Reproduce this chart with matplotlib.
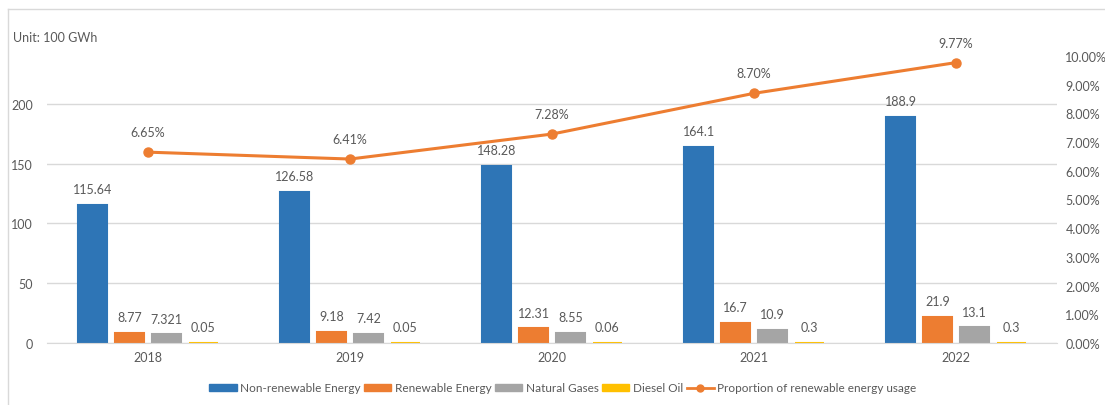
import matplotlib
matplotlib.use("Agg")
import matplotlib.pyplot as plt
from matplotlib.lines import Line2D
from matplotlib.ticker import FuncFormatter
import numpy as np

years = ["2018", "2019", "2020", "2021", "2022"]
non_renewable = [115.64, 126.58, 148.28, 164.1, 188.9]
renewable = [8.77, 9.18, 12.31, 16.7, 21.9]
natural_gas = [7.321, 7.42, 8.55, 10.9, 13.1]
diesel = [0.05, 0.05, 0.06, 0.3, 0.3]
renewable_share = [6.65, 6.41, 7.28, 8.70, 9.77]

bar_labels = [
    ["115.64", "126.58", "148.28", "164.1", "188.9"],
    ["8.77", "9.18", "12.31", "16.7", "21.9"],
    ["7.321", "7.42", "8.55", "10.9", "13.1"],
    ["0.05", "0.05", "0.06", "0.3", "0.3"],
]
series_names = ["Non-renewable Energy", "Renewable Energy", "Natural Gases", "Diesel Oil"]
line_name = "Proportion of renewable energy usage"

colors = ["#2E75B6", "#ED7D31", "#A5A5A5", "#FFC000"]
text_color = "#595959"
fs = 9
plt.rcParams["font.family"] = ["Lato", "DejaVu Sans"]

W, H = 1105, 406
fig = plt.figure(figsize=(W / 100, H / 100), dpi=100)

left_px, right_px, top_px, bottom_px = 47, 1057, 57, 344
ax = fig.add_axes([left_px / W, 1 - bottom_px / H,
                   (right_px - left_px) / W, (bottom_px - top_px) / H])
ax2 = ax.twinx()

x = np.arange(len(years))
width = 0.145
step = 0.183
offsets = [-1.5 * step, -0.5 * step, 0.5 * step, 1.5 * step]
series = [non_renewable, renewable, natural_gas, diesel]

for vals, off, col, labs in zip(series, offsets, colors, bar_labels):
    bars = ax.bar(x + off, vals, width, color=col, edgecolor=col,
                  linewidth=1.5, zorder=2)
    for b, lab in zip(bars, labs):
        ax.annotate(lab, (b.get_x() + b.get_width() / 2, b.get_height()),
                    xytext=(0, 7), textcoords="offset points",
                    ha="center", va="bottom", fontsize=fs, color=text_color)

ax.set_xlim(-0.5, len(years) - 0.5)
ax.set_ylim(0, 240)
ax.set_yticks([0, 50, 100, 150, 200])
ax.grid(axis="y", color="#D9D9D9", linewidth=1, zorder=0)
ax.set_axisbelow(True)
ax.set_xticks(x)
ax.set_xticklabels(years)
for a in (ax, ax2):
    for s in a.spines.values():
        s.set_visible(False)
ax.spines["bottom"].set_visible(True)
ax.spines["bottom"].set_color("#D9D9D9")
ax.tick_params(axis="both", length=0, labelsize=fs, labelcolor=text_color)
ax.tick_params(axis="y", pad=10)
ax.tick_params(axis="x", pad=6)

ax2.plot(x, renewable_share, color="#ED7D31", linewidth=2.2, marker="o",
         markersize=6.5, zorder=3)
for xi, v in zip(x, renewable_share):
    ax2.annotate(f"{v:.2f}%", (xi, v), xytext=(0, 10), textcoords="offset points",
                 ha="center", va="bottom", fontsize=fs, color=text_color)
ax2.set_ylim(0, 10)
ax2.set_yticks(np.arange(0, 11, 1))
ax2.yaxis.set_major_formatter(FuncFormatter(lambda v, p: f"{v:.2f}%"))
ax2.tick_params(axis="y", length=0, labelsize=fs, labelcolor=text_color, pad=6)

fig.text(13 / W, 1 - 38 / H, "Unit: 100 GWh", fontsize=fs, color=text_color,
         va="center", ha="left")

handles = [plt.Rectangle((0, 0), 1, 1, color=c) for c in colors]
handles.append(Line2D([0], [0], color="#ED7D31", linewidth=2, marker="o", markersize=5))
fig.legend(handles, series_names + [line_name], loc="center",
           bbox_to_anchor=(563 / W, 1 - 389 / H), ncol=5, frameon=False,
           fontsize=8.5, handlelength=2.3, handleheight=0.6,
           columnspacing=0.3, handletextpad=0.3, labelcolor=text_color)

# chart frame lines
fig.add_artist(Line2D([8 / W, 8 / W], [0, 1 - 10 / H], transform=fig.transFigure,
                      color="#D9D9D9", linewidth=1))
fig.add_artist(Line2D([8 / W, 1], [1 - 10 / H, 1 - 10 / H], transform=fig.transFigure,
                      color="#D9D9D9", linewidth=1))

fig.savefig("out.png", dpi=100, facecolor="white")
